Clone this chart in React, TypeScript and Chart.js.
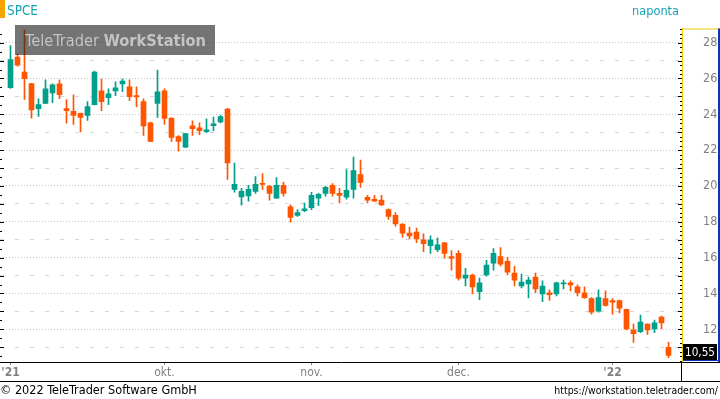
import React, { useEffect, useRef } from 'react';
import { Chart, registerables } from 'chart.js';

Chart.register(...registerables);

// trading days (Aug 31 2021 - Jan 13 2022)
const dates: string[] = [
  '21-08-31', '21-09-01', '21-09-02', '21-09-03', '21-09-07', '21-09-08', '21-09-09', '21-09-10',
  '21-09-13', '21-09-14', '21-09-15', '21-09-16', '21-09-17', '21-09-20', '21-09-21', '21-09-22',
  '21-09-23', '21-09-24', '21-09-27', '21-09-28', '21-09-29', '21-09-30', '21-10-01', '21-10-04',
  '21-10-05', '21-10-06', '21-10-07', '21-10-08', '21-10-11', '21-10-12', '21-10-13', '21-10-14',
  '21-10-15', '21-10-18', '21-10-19', '21-10-20', '21-10-21', '21-10-22', '21-10-25', '21-10-26',
  '21-10-27', '21-10-28', '21-10-29', '21-11-01', '21-11-02', '21-11-03', '21-11-04', '21-11-05',
  '21-11-08', '21-11-09', '21-11-10', '21-11-11', '21-11-12', '21-11-15', '21-11-16', '21-11-17',
  '21-11-18', '21-11-19', '21-11-22', '21-11-23', '21-11-24', '21-11-26', '21-11-29', '21-11-30',
  '21-12-01', '21-12-02', '21-12-03', '21-12-06', '21-12-07', '21-12-08', '21-12-09', '21-12-10',
  '21-12-13', '21-12-14', '21-12-15', '21-12-16', '21-12-17', '21-12-20', '21-12-21', '21-12-22',
  '21-12-23', '21-12-27', '21-12-28', '21-12-29', '21-12-30', '21-12-31', '22-01-03', '22-01-04',
  '22-01-05', '22-01-06', '22-01-07', '22-01-10', '22-01-11', '22-01-12', '22-01-13',
];

const openP: number[] = [
  25.49, 27.20, 26.36, 25.71, 24.32, 24.61, 25.20, 25.70, 24.32, 24.16,
  24.05, 23.94, 24.54, 25.31, 24.93, 25.31, 25.70, 25.53, 25.04, 24.71,
  23.52, 24.61, 25.31, 23.79, 22.76, 22.16, 23.36, 23.25, 23.03, 23.36,
  23.57, 24.29, 19.81, 19.39, 19.45, 19.70, 20.14, 19.98, 19.32, 20.03,
  18.84, 18.36, 18.62, 18.79, 19.32, 19.59, 20.03, 19.59, 19.37, 19.81,
  20.64, 19.37, 19.26, 19.21, 18.68, 18.36, 17.87, 17.37, 17.43, 17.00,
  16.67, 16.45, 16.83, 16.06, 16.24, 14.86, 15.03, 14.10, 15.03, 15.69,
  16.06, 15.80, 15.14, 14.42, 14.53, 14.92, 13.98, 14.04, 13.98, 14.53,
  14.59, 14.37, 14.04, 13.72, 13.02, 13.72, 13.61, 13.61, 13.12, 11.97,
  11.87, 12.30, 12.03, 12.69, 11.00,
];
const highP: number[] = [
  27.84, 27.38, 28.70, 25.73, 24.87, 25.92, 25.70, 25.92, 24.82, 25.09,
  24.07, 24.71, 26.41, 25.97, 25.42, 25.81, 25.97, 25.92, 25.53, 24.87,
  23.57, 26.47, 25.42, 23.81, 22.82, 22.94, 23.64, 23.52, 23.75, 23.85,
  23.94, 24.34, 21.28, 19.87, 20.03, 20.53, 20.69, 20.03, 20.47, 20.20,
  18.95, 18.69, 19.05, 19.65, 19.59, 19.98, 20.14, 19.87, 20.91, 21.61,
  21.44, 19.48, 19.48, 19.48, 18.73, 18.52, 17.89, 17.70, 17.65, 17.33,
  17.22, 17.11, 16.85, 16.40, 16.40, 15.41, 15.08, 14.86, 15.85, 16.51,
  16.56, 16.02, 15.52, 15.08, 14.92, 15.14, 14.70, 14.20, 14.64, 14.75,
  14.70, 14.48, 14.37, 13.77, 14.20, 14.15, 13.72, 13.63, 13.13, 12.30,
  12.80, 12.31, 12.52, 12.74, 11.28,
];
const lowP: number[] = [
  25.44, 26.68, 24.83, 23.79, 23.88, 24.60, 24.65, 24.87, 23.50, 23.44,
  23.02, 23.66, 24.52, 24.21, 24.54, 25.04, 25.26, 24.76, 24.43, 22.82,
  22.48, 23.83, 23.44, 22.49, 21.94, 22.14, 22.82, 22.87, 22.98, 23.09,
  23.52, 20.36, 19.65, 18.93, 19.15, 19.59, 19.81, 19.21, 19.30, 19.43,
  17.98, 18.30, 18.57, 18.68, 18.90, 19.43, 19.43, 19.05, 19.26, 19.32,
  19.92, 19.05, 19.14, 18.90, 18.14, 17.76, 17.15, 17.04, 16.83, 16.34,
  16.24, 16.34, 15.96, 15.30, 14.75, 14.42, 13.98, 13.65, 14.97, 15.30,
  15.52, 15.03, 14.42, 14.31, 13.76, 14.04, 13.55, 13.61, 13.87, 14.26,
  14.15, 13.87, 13.72, 12.85, 12.96, 13.29, 12.85, 12.91, 11.97, 11.27,
  11.82, 11.71, 11.82, 12.03, 10.42,
];
const closeP: number[] = [
  27.05, 26.74, 25.99, 24.25, 24.54, 25.42, 25.64, 25.09, 24.21, 23.94,
  23.83, 24.43, 26.36, 24.71, 25.15, 25.48, 25.86, 24.98, 24.97, 23.35,
  22.49, 25.26, 23.77, 22.71, 22.49, 22.93, 23.20, 23.09, 23.14, 23.47,
  23.88, 21.29, 20.09, 19.70, 19.81, 20.09, 20.09, 19.59, 20.03, 19.59,
  18.25, 18.52, 18.73, 19.48, 19.54, 19.92, 19.59, 19.48, 19.76, 20.86,
  20.20, 19.21, 19.15, 18.94, 18.30, 17.88, 17.37, 17.21, 17.04, 16.78,
  17.00, 16.72, 16.24, 15.96, 14.86, 15.03, 14.37, 14.59, 15.58, 16.24,
  15.63, 15.19, 14.75, 14.64, 14.75, 14.26, 14.42, 13.93, 14.59, 14.59,
  14.48, 14.04, 13.77, 12.96, 13.77, 13.34, 13.51, 13.18, 12.03, 11.76,
  12.41, 11.97, 12.36, 12.36, 10.55,
];

const monthTickIndex: number[] = [0, 22, 43, 64, 86];
const monthTickLabels: string[] = ["'21", 'okt.', 'nov.', 'dec.', "'22"];
const priceTicks: number[] = [11, 12, 13, 14, 15, 16, 17, 18, 19, 20, 21, 22, 23, 24, 25, 26, 27, 28];
const symbolName = 'SPCE';
const periodName = 'naponta';
const lastPrice = 10.55;
const lastPriceLabel = '10,55';
const watermarkA = 'TeleTrader ';
const watermarkB = 'WorkStation';
const copyrightText = '\u00A9 2022 TeleTrader Software GmbH';
const urlText = 'https://workstation.teletrader.com/';

const UP = '#00a08c';
const DOWN = '#ff5500';
const TEAL_TEXT = '#17a2b4';
const FONT = "'DejaVu Sans Condensed', 'DejaVu Sans', sans-serif";

function App() {
  const ref = useRef<HTMLCanvasElement>(null);

  useEffect(() => {
    document.body.style.margin = '0';
    const canvas = ref.current!;
    const colors = closeP.map((c, i) => (c >= openP[i] ? UP : DOWN));
    const body = openP.map((o, i) => ({ x: i, y: [o, closeP[i]] }));
    const wick = lowP.map((l, i) => ({ x: i, y: [l, highP[i]] }));

    const fitSize = (ctx: CanvasRenderingContext2D, text: string, weight: string, target: number) => {
      ctx.font = `${weight} 100px ${FONT}`;
      return (100 * target) / ctx.measureText(text).width;
    };

    const deco = {
      id: 'deco',
      beforeDraw(chart: any) {
        const c = chart.ctx;
        c.save();
        c.fillStyle = '#ffffff';
        c.fillRect(0, 0, chart.width, chart.height);
        c.restore();
      },
      afterDraw(chart: any) {
        const c: CanvasRenderingContext2D = chart.ctx;
        const ys = chart.scales.y;
        const area = chart.chartArea;
        c.save();

        // header
        c.fillStyle = '#f5a400';
        c.fillRect(0, 0, 5, 18);
        c.fillStyle = TEAL_TEXT;
        c.textBaseline = 'alphabetic';
        c.textAlign = 'left';
        let s = fitSize(c, symbolName, 'normal', 31);
        c.font = `normal ${s}px ${FONT}`;
        c.fillText(symbolName, 7, 15);
        s = fitSize(c, periodName, 'normal', 47);
        c.font = `normal ${s}px ${FONT}`;
        c.textAlign = 'right';
        c.fillText(periodName, 679, 15);

        // watermark
        c.fillStyle = 'rgba(30,30,30,0.62)';
        c.fillRect(15, 25, 200, 30);
        c.font = `normal 100px ${FONT}`;
        const wa = c.measureText(watermarkA).width;
        c.font = `bold 100px ${FONT}`;
        const wb = c.measureText(watermarkB).width;
        const ws = (100 * 181) / (wa + wb);
        c.fillStyle = '#c4c4c4';
        c.textAlign = 'left';
        c.font = `normal ${ws}px ${FONT}`;
        c.fillText(watermarkA, 25, 46);
        c.font = `bold ${ws}px ${FONT}`;
        c.fillText(watermarkB, 25 + (wa * ws) / 100, 46);

        // left and right small ticks
        c.fillStyle = '#000000';
        for (let v = 10.5; v <= 28.75; v += 0.5) {
          const y = Math.round(ys.getPixelForValue(v));
          if (y < area.top || y > area.bottom) continue;
          const len = Number.isInteger(v) ? 4 : 2;
          c.fillRect(0, y, len, 1);
        }
        for (let v = 10.25; v <= 28.75; v += 0.25) {
          const y = Math.round(ys.getPixelForValue(v));
          if (y < area.top || y > area.bottom) continue;
          const len = Number.isInteger(v) ? 4 : 2;
          c.fillRect(area.right - len, y, len, 1);
        }

        // right axis frame
        c.fillStyle = '#f0c800';
        c.fillRect(area.right, area.top, 720 - area.right, 1);
        c.fillStyle = '#1030c0';
        c.fillRect(718, area.top, 2, area.bottom - area.top);

        // last price box
        const py = ys.getPixelForValue(lastPrice);
        c.fillStyle = '#000000';
        c.fillRect(683, Math.round(py) - 11, 34, 17);
        c.fillStyle = '#1030c0';
        c.fillRect(683, Math.round(py) + 5, 37, 1);
        c.fillStyle = '#ffffff';
        s = fitSize(c, lastPriceLabel, 'normal', 30);
        c.font = `normal ${s}px ${FONT}`;
        c.textAlign = 'center';
        c.textBaseline = 'middle';
        c.fillText(lastPriceLabel, 700, Math.round(py) - 2);

        // bottom frame
        c.fillStyle = '#000000';
        c.fillRect(area.right, area.bottom, 720 - area.right, 1);
        c.fillRect(0, 381, 720, 1);
        c.fillRect(area.right - 1, area.bottom, 1, 381 - area.bottom);

        // footer
        c.textBaseline = 'alphabetic';
        c.textAlign = 'left';
        s = fitSize(c, copyrightText, 'normal', 197);
        c.font = `normal ${s}px ${FONT}`;
        c.fillText(copyrightText, 0, 394);
        s = fitSize(c, urlText, 'normal', 164);
        c.font = `normal ${s}px ${FONT}`;
        c.textAlign = 'right';
        c.fillText(urlText, 718, 394);

        c.restore();
      },
    };

    const chart = new Chart(canvas, {
      type: 'bar',
      data: {
        labels: dates,
        datasets: [
          {
            label: 'body',
            data: body as any,
            backgroundColor: colors,
            borderWidth: 0,
            barThickness: 5,
            minBarLength: 1,
            grouped: false,
          } as any,
          {
            label: 'wick',
            data: wick as any,
            backgroundColor: colors,
            borderWidth: 0,
            barThickness: 1,
            grouped: false,
          } as any,
        ],
      },
      options: {
        responsive: false,
        devicePixelRatio: 1,
        animation: false,
        events: [],
        layout: { padding: { top: 20, bottom: 18, left: 0, right: 0 } },
        plugins: { legend: { display: false }, tooltip: { enabled: false } },
        scales: {
          x: {
            type: 'linear',
            position: 'bottom',
            min: -1.5,
            max: -1.5 + 682 / 7,
            offset: false,
            afterBuildTicks: (sc: any) => {
              sc.ticks = monthTickIndex.map((v) => ({ value: v }));
            },
            afterFit: (sc: any) => {
              sc.height = 19;
            },
            ticks: {
              autoSkip: false,
              maxRotation: 0,
              padding: 1,
              color: '#808080',
              font: (ctx: any) => ({
                family: FONT,
                size: 12,
                weight: ctx.index === 0 || ctx.index === monthTickIndex.length - 1 ? 'bold' : 'normal',
              }),
              callback: (v: any) => {
                const k = monthTickIndex.indexOf(Number(v));
                return k >= 0 ? monthTickLabels[k] : '';
              },
            },
            grid: {
              display: true,
              drawOnChartArea: false,
              drawTicks: true,
              tickLength: 3,
              tickColor: '#808080',
              offset: false,
            },
            border: { display: true, color: '#000000', width: 1 },
          } as any,
          y: {
            type: 'linear',
            position: 'right',
            min: 10.177,
            max: 28.789,
            beginAtZero: false,
            afterBuildTicks: (sc: any) => {
              sc.ticks = priceTicks.map((v) => ({ value: v }));
            },
            afterFit: (sc: any) => {
              sc.width = 38;
            },
            ticks: {
              autoSkip: false,
              crossAlign: 'near',
              padding: 21,
              color: '#808080',
              font: { family: FONT, size: 12.5 },
              callback: (v: any) => (Number(v) % 2 === 0 ? String(v) : ''),
            },
            grid: {
              drawTicks: false,
              color: (ctx: any) => (ctx.tick && ctx.tick.value % 2 === 0 ? '#c4c4c4' : '#d6d6d6'),
            },
            border: {
              display: true,
              color: '#f0c800',
              width: 1,
              dash: (ctx: any) => (ctx.tick && ctx.tick.value % 2 === 0 ? [1, 2] : [4, 11]),
            },
          } as any,
        },
      },
      plugins: [deco],
    });

    return () => chart.destroy();
  }, []);

  return (
    <div style={{ width: 720, height: 399 }}>
      <canvas ref={ref} width={720} height={399} style={{ display: 'block' }} />
    </div>
  );
}

export default App;
